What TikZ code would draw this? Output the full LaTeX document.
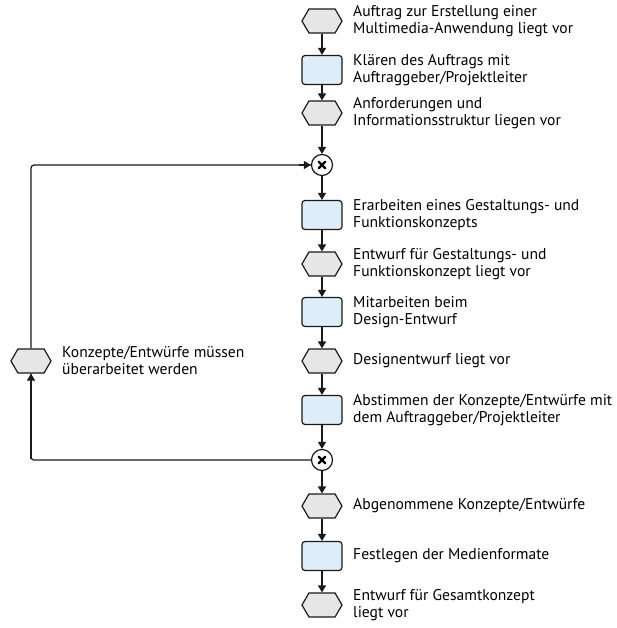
\documentclass[tikz,border=0pt]{standalone}
\usepackage{fontspec}
\setmainfont{PT Sans}
\usetikzlibrary{arrows.meta,shapes.symbols}
\definecolor{evfill}{HTML}{E6E6E6}
\definecolor{fnfill}{HTML}{DDEEF9}
\definecolor{ln}{HTML}{1A1A1A}
\tikzset{
  event/.style={shape=signal, signal to=west and east, signal pointer angle=120,
    draw=ln, fill=evfill, line width=1.2pt, minimum width=40pt, minimum height=24pt, inner sep=0pt},
  func/.style={rectangle, rounded corners=3pt, draw=ln, fill=fnfill, line width=1.2pt,
    minimum width=40pt, minimum height=29pt, inner sep=0pt},
  xorc/.style={circle, draw=ln, fill=white, line width=1.2pt, minimum size=21pt, inner sep=0pt},
  lbl/.style={anchor=west, align=left, font=\fontsize{15.6}{17}\selectfont, inner sep=0pt},
  flow/.style={-{Triangle[length=7pt,width=8pt]}, line width=1.2pt, draw=ln},
  plain/.style={line width=1.2pt, draw=ln, rounded corners=3pt}
}
\begin{document}
\begin{tikzpicture}[x=1pt,y=-1pt]
\useasboundingbox (0,0) rectangle (617,628);
% main process column
\node[event] (h1) at (322,21) {};
\node[func]  (b1) at (322,70) {};
\node[event] (h2) at (322,113) {};
\node[xorc]  (c1) at (322,165) {};
\node[func]  (b2) at (322,215) {};
\node[event] (h3) at (322,264) {};
\node[func]  (b3) at (322,312) {};
\node[event] (h4) at (322,361) {};
\node[func]  (b4) at (322,410) {};
\node[xorc]  (c2) at (322,460) {};
\node[event] (h5) at (322,506) {};
\node[func]  (b5) at (322,556) {};
\node[event] (h6) at (322,605) {};
% rework event on the left
\node[event] (hl) at (31,361) {};
% XOR crosses
\foreach \c in {c1,c2}{
  \draw[line width=2.2pt, line cap=round] ([shift={(-3.3,-3.3)}]\c.center) -- ([shift={(3.3,3.3)}]\c.center);
  \draw[line width=2.2pt, line cap=round] ([shift={(-3.3,3.3)}]\c.center) -- ([shift={(3.3,-3.3)}]\c.center);
}
% labels
\node[lbl] (t1) at (353,21) {Auftrag zur Erstellung einer\\Multimedia-Anwendung liegt vor};
\node[lbl] (t2) at (353,70) {Klären des Auftrags mit\\Auftraggeber/Projektleiter};
\node[lbl] (t3) at (353,113) {Anforderungen und\\Informationsstruktur liegen vor};
\node[lbl] (t4) at (353,215) {Erarbeiten eines Gestaltungs- und\\Funktionskonzepts};
\node[lbl] (t5) at (353,264) {Entwurf für Gestaltungs- und\\Funktionskonzept liegt vor};
\node[lbl] (t6) at (353,312) {Mitarbeiten beim\\Design-Entwurf};
\node[lbl] (t7) at (353,361) {Designentwurf liegt vor};
\node[lbl] (t8) at (353,410) {Abstimmen der Konzepte/Entwürfe mit\\dem Auftraggeber/Projektleiter};
\node[lbl] (t9) at (353,506) {Abgenommene Konzepte/Entwürfe};
\node[lbl] (t10) at (353,556) {Festlegen der Medienformate};
\node[lbl] (t11) at (353,605) {Entwurf für Gesamtkonzept\\liegt vor};
\node[lbl] (tl) at (62,361) {Konzepte/Entwürfe müssen\\überarbeitet werden};
% connectors
\draw[flow] (h1.south) -- (b1.north);
\draw[flow] (b1.south) -- (h2.north);
\draw[flow] (h2.south) -- (c1.north);
\draw[flow] (c1.south) -- (b2.north);
\draw[flow] (b2.south) -- (h3.north);
\draw[flow] (h3.south) -- (b3.north);
\draw[flow] (b3.south) -- (h4.north);
\draw[flow] (h4.south) -- (b4.north);
\draw[flow] (b4.south) -- (c2.north);
\draw[flow] (c2.south) -- (h5.north);
\draw[flow] (h5.south) -- (b5.north);
\draw[flow] (b5.south) -- (h6.north);
% rework loop
\draw[plain] (c2.west) -| (hl.south);
\draw[flow] (hl.south |- c2.west) ++(0,-1) -- (hl.south);
\draw[plain] (hl.north) |- (c1.west);
\draw[flow] ([xshift=-12pt]c1.west) -- (c1.west);
\end{tikzpicture}
\end{document}
